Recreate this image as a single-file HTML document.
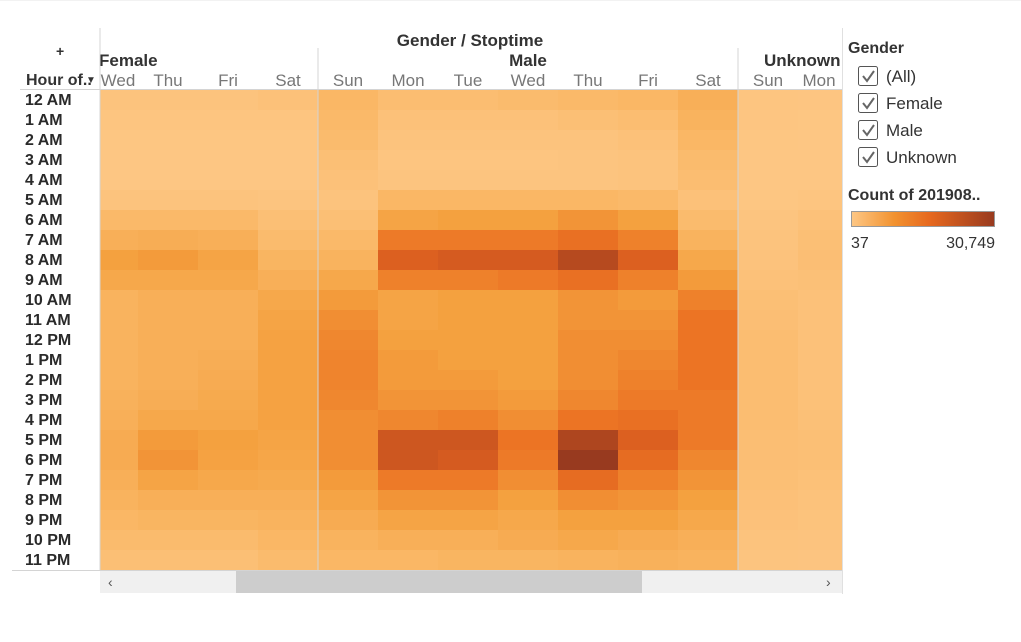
<!DOCTYPE html>
<html><head><meta charset="utf-8"><style>
body{margin:0;background:#fff;width:1021px;height:637px;overflow:hidden;font-family:"Liberation Sans",sans-serif}
svg text{font-family:"Liberation Sans",sans-serif}
</style></head><body>
<svg id="chart" width="1021" height="637" xmlns="http://www.w3.org/2000/svg">
<defs><clipPath id="plotclip"><rect x="0" y="0" width="842" height="637"/></clipPath>
<linearGradient id="grad"><stop offset="0" stop-color="#fdc785"/><stop offset="0.3" stop-color="#f2922f"/><stop offset="0.55" stop-color="#e6681f"/><stop offset="1" stop-color="#983a1f"/></linearGradient></defs>
<line x1="0" y1="0" x2="1021" y2="0" stroke="#e6e6e6"/>
<text x="470" y="46" font-size="17" font-weight="bold" fill="#333" text-anchor="middle">Gender / Stoptime</text>
<text x="99" y="66" font-size="17" font-weight="bold" fill="#333">Female</text>
<text x="528" y="66" font-size="17" font-weight="bold" fill="#333" text-anchor="middle">Male</text>
<text x="764" y="66" font-size="17" font-weight="bold" fill="#333" clip-path="url(#plotclip)">Unknown</text>
<text x="26" y="85" font-size="16" font-weight="bold" fill="#333">Hour of..</text>
<text x="86" y="83" font-size="10" fill="#333">▼</text>
<text x="56" y="56" font-size="14" font-weight="bold" fill="#333">+</text>
<g id="cells"></g>
<g id="labels" clip-path="url(#plotclip)"></g>
<line x1="100" y1="28" x2="100" y2="570" stroke="#d4d4d4"/>
<line x1="318" y1="48" x2="318" y2="570" stroke="#d4d4d4"/>
<line x1="738" y1="48" x2="738" y2="570" stroke="#d4d4d4"/>
<line x1="20" y1="89.5" x2="842" y2="89.5" stroke="#d4d4d4"/>
<line x1="12" y1="570.5" x2="842" y2="570.5" stroke="#d4d4d4"/>
<line x1="842.5" y1="28" x2="842.5" y2="594" stroke="#e0e0e0"/>
<rect x="100" y="571" width="742" height="22" fill="#f0f0f0"/>
<rect x="236" y="571" width="406" height="22" fill="#cdcdcd"/>
<text x="108" y="587" font-size="14" fill="#555">‹</text>
<text x="826" y="587" font-size="14" fill="#555">›</text>
<text x="848" y="53" font-size="16" font-weight="bold" fill="#333">Gender</text>
<g id="legend"></g>
<text x="848" y="200" font-size="16" font-weight="bold" fill="#333">Count of 201908..</text>
<rect x="851.5" y="211.5" width="143" height="15" fill="url(#grad)" stroke="#999"/>
<text x="851" y="248" font-size="16" fill="#333">37</text>
<text x="995" y="248" font-size="16" fill="#333" text-anchor="end">30,749</text>
</svg>
<script>
const hours=["12 AM","1 AM","2 AM","3 AM","4 AM","5 AM","6 AM","7 AM","8 AM","9 AM","10 AM","11 AM","12 PM","1 PM","2 PM","3 PM","4 PM","5 PM","6 PM","7 PM","8 PM","9 PM","10 PM","11 PM"];
const columns=["F-Wed","F-Thu","F-Fri","F-Sat","M-Sun","M-Mon","M-Tue","M-Wed","M-Thu","M-Fri","M-Sat","U-Sun","U-Mon"];
const dayLabels=["Wed","Thu","Fri","Sat","Sun","Mon","Tue","Wed","Thu","Fri","Sat","Sun","Mon"];
const femaleVals=[[1000,1000,1000,1500],[600,600,600,600],[400,400,400,400],[300,300,300,300],[300,300,300,300],[1000,1000,1000,800],[3500,3500,3500,2000],[6000,6500,6000,3000],[10000,11000,9000,4500],[8000,8000,8000,6000],[5000,6000,6000,8000],[5000,6000,6000,9000],[5000,6000,6000,9500],[5000,6000,6500,9500],[5000,6000,7000,9500],[5500,6500,7500,9500],[6000,8000,8000,9500],[7000,11000,10000,9000],[7000,12000,9500,8500],[6000,9000,8000,7500],[5000,6000,6000,6000],[4000,4500,4500,5000],[3000,3000,3000,4000],[2000,2000,2000,3000]];
const maleVals=[[4000,2500,2500,3000,3500,4000,6000],[3500,1500,1500,1500,2000,2500,5000],[3000,1000,1000,1000,1000,1500,4000],[2000,600,600,600,800,1000,3000],[1500,800,800,800,800,1000,2500],[1000,4000,4000,4000,4000,3500,1500],[2000,9000,10000,10000,12000,10000,3000],[3500,16000,16000,16000,18000,15000,5000],[5000,22000,23000,23000,27000,22000,8000],[8000,15000,15000,16000,18000,15000,11000],[11000,9000,10000,10000,12000,11000,15000],[13000,9000,10000,10000,12000,12000,17000],[14000,10000,10000,10000,13000,13000,17000],[14500,11000,10000,10000,13000,14000,17000],[14500,11000,11000,10000,13000,15000,17000],[14000,12000,12000,11000,14000,16000,16000],[13000,14000,15000,13000,17000,18000,16000],[13000,24000,24000,17000,28000,22000,16000],[13000,24000,23000,16000,30749,19000,14000],[11000,16000,16000,13000,19000,15000,12000],[9000,12000,12000,10000,13000,12000,10000],[7000,9000,9000,8000,10000,10000,8000],[5000,6000,6000,7000,8000,7000,6000],[4000,4000,4500,4500,5000,5500,5000]];
const unknownVals=[[600,500],[500,400],[400,300],[300,300],[300,300],[400,600],[800,1500],[1000,2000],[1200,2200],[1500,1800],[2000,1500],[2200,1500],[2500,1500],[2500,1500],[2500,1500],[2500,1600],[2500,1800],[2300,2000],[2200,2000],[2000,1600],[1700,1300],[1400,1100],[1000,900],[800,700]];
const vmin=37,vmax=30749;
const stops=[[0,[253,199,133]],[0.15,[249,180,96]],[0.33,[244,160,62]],[0.55,[236,116,36]],[0.72,[220,95,32]],[1,[152,58,31]]];
function color(v){let t=Math.max(0,Math.min(1,(v-vmin)/(vmax-vmin)));for(let i=1;i<stops.length;i++){if(t<=stops[i][0]){const a=stops[i-1],b=stops[i];const f=(t-a[0])/(b[0]-a[0]);const c=a[1].map((x,k)=>Math.round(x+(b[1][k]-x)*f));return `rgb(${c})`;}}return "rgb(152,58,31)";}
function xPos(ci){return 78+ci*60;}
function yPos(ri){return 90+ri*20;}
const NS="http://www.w3.org/2000/svg";
const cells=document.getElementById("cells"),labels=document.getElementById("labels");
hours.forEach((h,ri)=>{
  const row=femaleVals[ri].concat(maleVals[ri],unknownVals[ri]);
  row.forEach((v,ci)=>{
    let x=xPos(ci),w=60;
    if(x<100){w-=100-x;x=100;}
    if(x+w>842)w=842-x;
    const r=document.createElementNS(NS,"rect");
    r.setAttribute("x",x);r.setAttribute("y",yPos(ri));r.setAttribute("width",w);r.setAttribute("height",20);r.setAttribute("fill",color(v));
    
    
    cells.appendChild(r);
  });
  const t=document.createElementNS(NS,"text");
  t.setAttribute("x",25);t.setAttribute("y",yPos(ri)+15);t.setAttribute("font-size","16");t.setAttribute("fill","#2a2a2a");t.setAttribute("font-weight","600");
  t.textContent=h;
  
  
  labels.appendChild(t);
});
dayLabels.forEach((d,ci)=>{
  const t=document.createElementNS(NS,"text");
  let cx=xPos(ci)+30; if(ci===0)cx=118; if(ci===12)cx=819;
  t.setAttribute("x",cx);t.setAttribute("y",86);t.setAttribute("font-size","17");t.setAttribute("fill","#777");t.setAttribute("text-anchor","middle");
  t.textContent=d;
  
  
  labels.appendChild(t);
});
const legendItems=["(All)","Female","Male","Unknown"];
const lg=document.getElementById("legend");
legendItems.forEach((s,i)=>{
  const y=66+i*27;
  const g=document.createElementNS(NS,"g");
  
  
  g.innerHTML=`<rect x="858.5" y="${y+0.5}" width="19" height="19" rx="2" fill="#fff" stroke="#555"/><path d="M863 ${y+10} l4 5 l7 -10" fill="none" stroke="#666" stroke-width="2"/><text x="886" y="${y+16}" font-size="17" fill="#333">${s}</text>`;
  lg.appendChild(g);
});
</script>
</body></html>
